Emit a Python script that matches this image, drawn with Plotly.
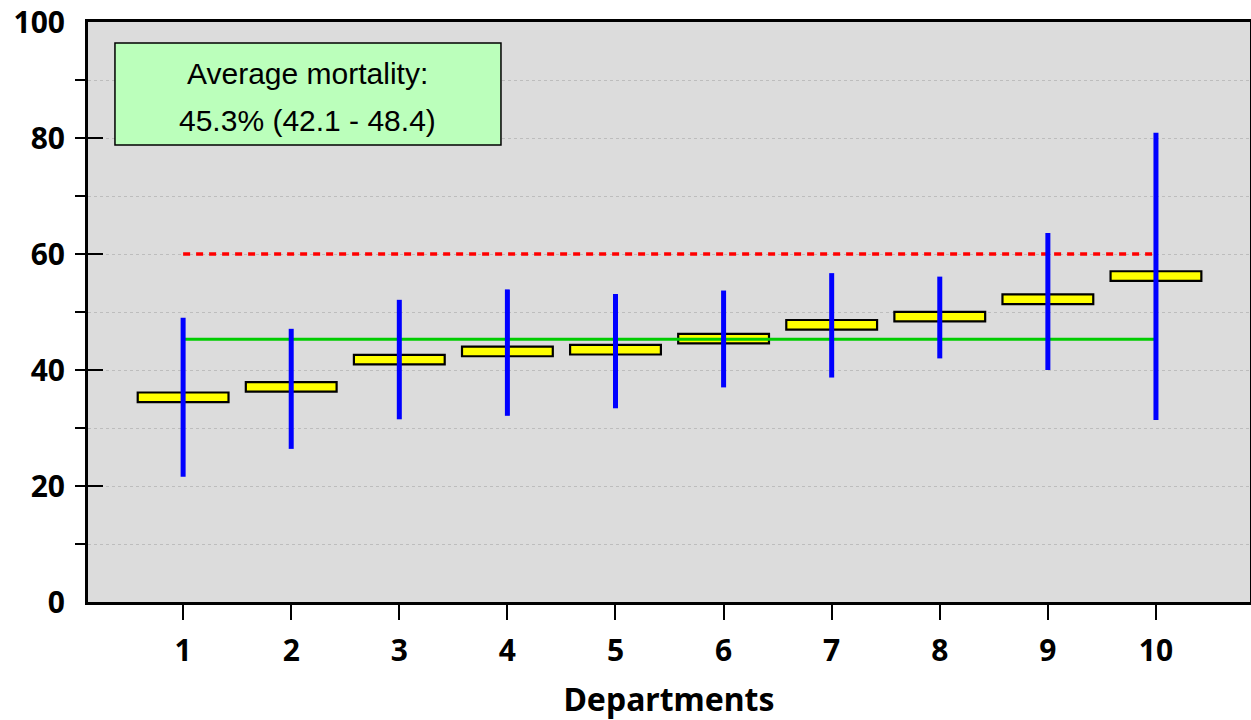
import plotly.graph_objects as go

# ---- data ----
departments = [1, 2, 3, 4, 5, 6, 7, 8, 9, 10]
mortality = [35.3, 37.1, 41.8, 43.2, 43.5, 45.4, 47.8, 49.2, 52.2, 56.2]
ci_low = [21.6, 26.4, 31.5, 32.1, 33.4, 37.0, 38.7, 42.0, 40.0, 31.4]
ci_high = [49.0, 47.1, 52.1, 53.9, 53.1, 53.7, 56.7, 56.1, 63.6, 80.9]
average = 45.3
average_ci = (42.1, 48.4)
target = 60
y_ticks = [0, 20, 40, 60, 80, 100]
x_title = "Departments"

# ---- styles ----
BAR_H = 1.65
BAR_W = 0.84
TICK_FONT = dict(family="Noto Sans", size=30, color="black", weight="bold")

fig = go.Figure()

# target (red dashed)
fig.add_trace(go.Scatter(
    x=[departments[0], departments[-1]], y=[target, target], mode="lines",
    line=dict(color="#ff0000", width=3.5, dash="7px,6px"), hoverinfo="skip"))

# average (green)
fig.add_trace(go.Scatter(
    x=[departments[0], departments[-1]], y=[average, average], mode="lines",
    line=dict(color="#00cc00", width=3), hoverinfo="skip"))

# confidence interval whiskers (blue)
wx, wy = [], []
for d, lo, hi in zip(departments, ci_low, ci_high):
    wx += [d, d, None]
    wy += [lo, hi, None]
fig.add_trace(go.Scatter(
    x=wx, y=wy, mode="lines",
    line=dict(color="#0000ff", width=5), hoverinfo="skip"))

# mortality markers (yellow boxes)
fig.add_trace(go.Bar(
    x=departments, y=[BAR_H] * len(mortality),
    base=[m - BAR_H / 2 for m in mortality], width=BAR_W,
    marker=dict(color="#ffff00", line=dict(color="black", width=2.2)),
    hoverinfo="skip"))

# annotation box
fig.add_shape(type="rect", xref="paper", yref="paper",
              x0=0.0232, x1=0.3554, y0=0.788, y1=0.964,
              fillcolor="#bbffbb", line=dict(color="black", width=1.5), layer="above")
ann_font = dict(family="Liberation Sans", size=30, color="black")
fig.add_annotation(xref="paper", yref="paper", x=0.189, y=0.912,
                   text="Average mortality:", showarrow=False,
                   xanchor="center", yanchor="middle", font=ann_font)
fig.add_annotation(xref="paper", yref="paper", x=0.189, y=0.831,
                   text=f"{average}% ({average_ci[0]} - {average_ci[1]})", showarrow=False,
                   xanchor="center", yanchor="middle", font=ann_font)

fig.update_layout(
    width=1251, height=720,
    margin=dict(l=88, r=1, t=22, b=118),
    paper_bgcolor="white", plot_bgcolor="#dcdcdc",
    showlegend=False, hovermode=False,
)

fig.update_xaxes(
    automargin=False,
    range=[0.12, 10.87], tickmode="array", tickvals=departments,
    ticktext=[str(d) for d in departments],
    ticks="outside", ticklen=15, tickwidth=1.5, tickcolor="black",
    tickfont=TICK_FONT, ticklabelstandoff=5,
    showgrid=False, zeroline=False,
    showline=True, linecolor="black", linewidth=3, mirror=True,
    title=dict(text=x_title, font=dict(family="Noto Sans", size=32, color="black", weight="bold"),
               standoff=24),
)

fig.update_yaxes(
    automargin=False,
    range=[0, 100], tickmode="array", tickvals=y_ticks,
    ticks="inside", ticklen=15, tickwidth=1.5, tickcolor="black",
    tickfont=TICK_FONT, ticklabelstandoff=14,
    showgrid=True, gridcolor="#bdbdbd", gridwidth=1, griddash="dot",
    zeroline=False,
    showline=True, linecolor="black", linewidth=3, mirror=True,
    minor=dict(dtick=10, tick0=0, ticks="outside", ticklen=10, tickwidth=1.5, tickcolor="black",
               showgrid=True, gridcolor="#bdbdbd", gridwidth=1, griddash="dot"),
)

# remove the default 8px page margin so the figure fills the window exactly
fig.write_html("out.html", config={"displayModeBar": False},
               post_script="document.body.style.margin='0px';")
